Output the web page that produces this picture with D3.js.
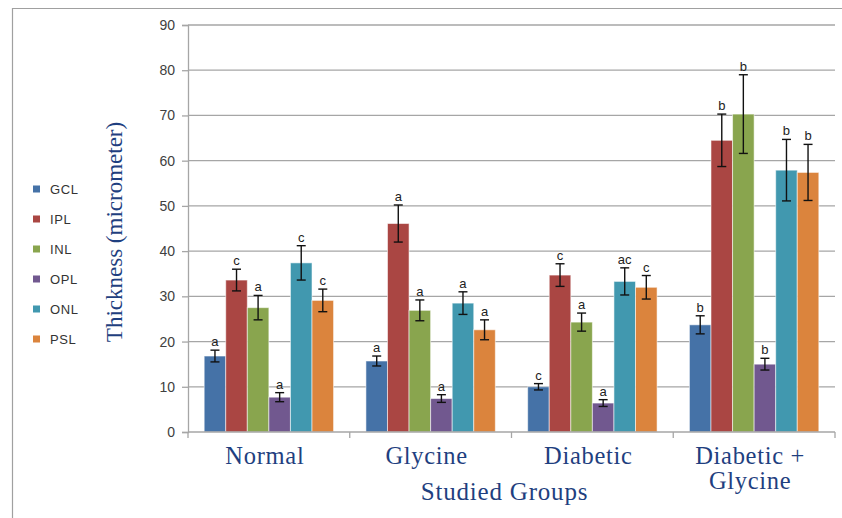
<!DOCTYPE html>
<html><head><meta charset="utf-8">
<script src="https://cdn.jsdelivr.net/npm/d3@7"></script>
<style>
html,body{margin:0;padding:0;background:#fff;}
svg{display:block;}
</style></head>
<body>
<svg id="chart" width="842" height="518"></svg>
<script>
const groups = ["Normal", "Glycine", "Diabetic", "Diabetic + Glycine"];
const series = ["GCL", "IPL", "INL", "OPL", "ONL", "PSL"];
const colors = ["#4572A7", "#AA4643", "#89A54E", "#71588F", "#4198AF", "#DB843D"];
// values[series][group]
const GCL = [16.8, 15.7, 10.0, 23.7];
const IPL = [33.6, 46.1, 34.7, 64.5];
const INL = [27.5, 26.9, 24.3, 70.3];
const OPL = [7.7, 7.4, 6.4, 15.0];
const ONL = [37.4, 28.5, 33.3, 57.9];
const PSL = [29.1, 22.6, 32.0, 57.4];
const GCL_err = [1.3, 1.1, 0.7, 2.0];
const IPL_err = [2.4, 4.1, 2.5, 5.8];
const INL_err = [2.7, 2.3, 2.0, 8.7];
const OPL_err = [1.0, 0.85, 0.75, 1.3];
const ONL_err = [3.8, 2.5, 3.0, 6.8];
const PSL_err = [2.5, 2.2, 2.6, 6.2];
const GCL_sig = ["a", "a", "c", "b"];
const IPL_sig = ["c", "a", "c", "b"];
const INL_sig = ["a", "a", "a", "b"];
const OPL_sig = ["a", "a", "a", "b"];
const ONL_sig = ["c", "a", "ac", "b"];
const PSL_sig = ["c", "a", "c", "b"];
const yTicks = [0, 10, 20, 30, 40, 50, 60, 70, 80, 90];

const vals = [GCL, IPL, INL, OPL, ONL, PSL];
const errs = [GCL_err, IPL_err, INL_err, OPL_err, ONL_err, PSL_err];
const sigs = [GCL_sig, IPL_sig, INL_sig, OPL_sig, ONL_sig, PSL_sig];

const svg = d3.select("#chart");
const navy = "#1F3F80";
const gridC = "#a6a6a6";

// frame
svg.append("line").attr("x1", 12).attr("x2", 842).attr("y1", 8.5).attr("y2", 8.5).attr("stroke", "#a0a0a0").attr("stroke-width", 1.2);
svg.append("line").attr("x1", 12.5).attr("x2", 12.5).attr("y1", 8).attr("y2", 518).attr("stroke", "#a0a0a0").attr("stroke-width", 1.2);

const pL = 188, pR = 835, pT = 25, pB = 432;
const y = d3.scaleLinear().domain([0, 90]).range([pB, pT]);
const x0 = d3.scaleBand().domain(groups).range([pL, pR]).padding(0);
const bw = x0.bandwidth();
const gap = bw * 1.5 / 7.5;
const x1 = d3.scaleBand().domain(series).range([gap / 2, bw - gap / 2]).padding(0);

// grid lines
svg.append("g").selectAll("line").data(yTicks.filter(t => t > 0)).join("line")
  .attr("x1", pL).attr("x2", pR)
  .attr("y1", d => y(d)).attr("y2", d => y(d))
  .attr("stroke", gridC).attr("stroke-width", 1.3);

// y axis
const yAxis = svg.append("g").attr("transform", `translate(${pL},0)`)
  .call(d3.axisLeft(y).tickValues(yTicks).tickSize(6).tickPadding(7));
yAxis.select(".domain").attr("stroke", gridC).attr("stroke-width", 1.3);
yAxis.selectAll(".tick line").attr("stroke", gridC).attr("stroke-width", 1.3);
yAxis.selectAll(".tick text").attr("font-family", "Liberation Sans, Arial, sans-serif")
  .attr("font-size", 14).attr("fill", "#404040");

// bars
const gG = svg.append("g");
groups.forEach((g, gi) => {
  const gx = x0(g);
  series.forEach((s, si) => {
    const v = vals[si][gi], e = errs[si][gi];
    const bx = gx + x1(s);
    gG.append("rect").attr("x", bx).attr("y", y(v)).attr("width", x1.bandwidth())
      .attr("height", y(0) - y(v)).attr("fill", colors[si])
      .attr("stroke", "rgba(255,255,255,0.55)").attr("stroke-width", 1);
    const cx = bx + x1.bandwidth() / 2;
    const eg = gG.append("g").attr("stroke", "#111").attr("stroke-width", 1.4);
    eg.append("line").attr("x1", cx).attr("x2", cx).attr("y1", y(v + e)).attr("y2", y(v - e));
    eg.append("line").attr("x1", cx - 4.5).attr("x2", cx + 4.5).attr("y1", y(v + e)).attr("y2", y(v + e));
    eg.append("line").attr("x1", cx - 4.5).attr("x2", cx + 4.5).attr("y1", y(v - e)).attr("y2", y(v - e));
    gG.append("text").attr("x", cx).attr("y", y(v + e) - 4)
      .attr("text-anchor", "middle").attr("font-family", "Liberation Sans, Arial, sans-serif")
      .attr("font-size", 13).attr("fill", "#222").text(sigs[si][gi]);
  });
});

// x axis
const xAxis = svg.append("g").attr("transform", `translate(0,${pB})`);
xAxis.append("line").attr("x1", pL).attr("x2", pR).attr("y1", 0).attr("y2", 0)
  .attr("stroke", gridC).attr("stroke-width", 1.3);
xAxis.selectAll("line.tk").data(groups.map(g => x0(g)).concat([pR])).join("line")
  .attr("class", "tk").attr("x1", d => d).attr("x2", d => d).attr("y1", 0).attr("y2", 6)
  .attr("stroke", gridC).attr("stroke-width", 1.3);

// category labels
groups.forEach((g, gi) => {
  const cxg = x0(g) + bw / 2 - 4;
  const t = svg.append("text").attr("x", cxg).attr("y", 464)
    .attr("text-anchor", "middle").attr("font-family", "Liberation Serif, Times New Roman, serif")
    .attr("font-size", 24.5).attr("letter-spacing", 0.7).attr("fill", navy);
  const parts = g === "Diabetic + Glycine" ? ["Diabetic +", "Glycine"] : [g];
  parts.forEach((p, i) => t.append("tspan").attr("x", cxg).attr("dy", i === 0 ? 0 : 25).text(p));
});

// axis titles
svg.append("text").attr("x", (pL + pR) / 2 - 7).attr("y", 500)
  .attr("text-anchor", "middle").attr("font-family", "Liberation Serif, Times New Roman, serif")
  .attr("font-size", 25).attr("letter-spacing", 0.8).attr("fill", navy).text("Studied Groups");
svg.append("text").attr("transform", `translate(122,${(122 + 342) / 2}) rotate(-90)`)
  .attr("text-anchor", "middle").attr("font-family", "Liberation Serif, Times New Roman, serif")
  .attr("font-size", 23).attr("fill", navy).text("Thickness (micrometer)");

// legend
const lg = svg.append("g");
series.forEach((s, i) => {
  const ly = 189 + i * 30;
  lg.append("rect").attr("x", 33).attr("y", ly - 3.5).attr("width", 7).attr("height", 7).attr("fill", colors[i]);
  lg.append("text").attr("x", 50).attr("y", ly + 4.5).attr("font-family", "Liberation Sans, Arial, sans-serif")
    .attr("font-size", 13).attr("letter-spacing", 0.6).attr("fill", "#333").text(s);
});
</script>
</body></html>
